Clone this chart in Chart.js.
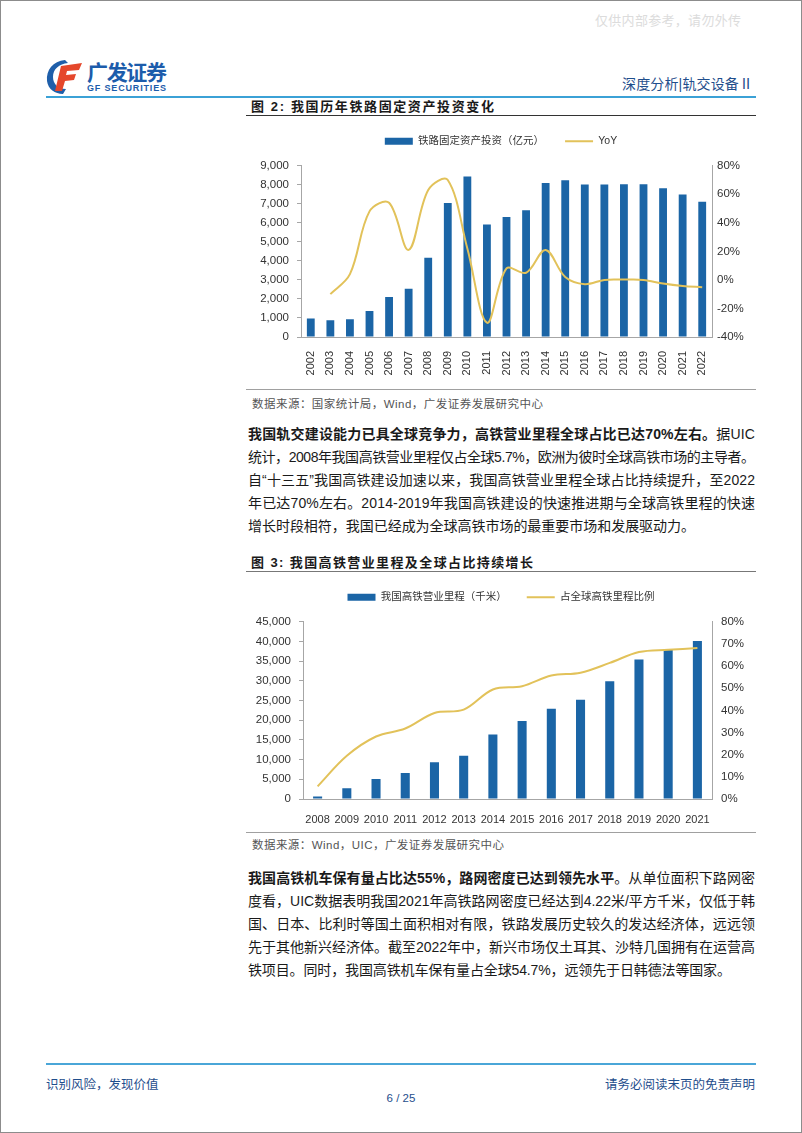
<!DOCTYPE html>
<html>
<head>
<meta charset="utf-8">
<script src="https://cdn.jsdelivr.net/npm/chart.js@4.4.0/dist/chart.umd.min.js"></script>
<style>
  body { margin: 0; background: #fff; font-family: "Liberation Sans", "Noto Sans CJK SC", sans-serif; }
  #page { position: relative; width: 800px; height: 1131px; border: 1px solid #8c8c8c; overflow: hidden; }
  .abs { position: absolute; }
  .fit { white-space: nowrap; display: inline-block; }
  .hline { position: absolute; height: 0; }
  .para { position: absolute; left: 247px; font-size: 14px; line-height: 23px; color: #1a1a1a; }
  .para > div { height: 23px; }
  .src { position: absolute; left: 251px; font-size: 11.5px; color: #555; }
  .ftitle { position: absolute; left: 250px; font-size: 13px; font-weight: bold; color: #1a1a1a; }
  canvas { position: absolute; }
</style>
</head>
<body>
<div id="page">
  <!-- watermark -->
  <div class="abs fit" style="left:594px;top:9px;font-size:13px;color:#dcdcdc;" data-w="146">仅供内部参考，请勿外传</div>

  <!-- logo -->
  <svg class="abs" style="left:43px;top:57px" width="42" height="38" viewBox="0 0 42 38">
    <path d="M21 2 C9 3 2 12 3 23 C4 31 11 36 19 36 L22 31 C14 31 9 26 9 19 C9 11 15 6 24 5 Z" fill="#1f5faa"/>
    <path d="M17 8 L38 5 L35 12 L23 13 L22 17 L32 16 L30 22 L21 23 L18 33 L11 33 Z" fill="#e5472b"/>
  </svg>
  <div class="abs fit" style="left:86px;top:55px;font-size:21px;font-weight:bold;color:#1c5cab;" data-w="80">广发证券</div>
  <div class="abs fit" style="left:86px;top:82px;font-size:9px;font-weight:bold;color:#1c5cab;" data-w="79">GF SECURITIES</div>
  <div class="abs fit" style="left:621px;top:72px;font-size:14px;color:#1f4e8c;" data-w="131">深度分析|轨交设备Ⅱ</div>
  <div class="hline" style="left:45px;top:95px;width:710px;border-top:2px solid #3ba1d6;"></div>

  <!-- figure 2 -->
  <div class="ftitle fit" style="top:95px;" data-w="243">图 2: 我国历年铁路固定资产投资变化</div>
  <div class="hline" style="left:245px;top:114px;width:510px;border-top:1.5px solid #333;"></div>
  <canvas id="chart1" width="510" height="262" style="left:245px;top:114px;"></canvas>
  <div class="hline" style="left:245px;top:388px;width:510px;border-top:1.5px solid #a0a0a0;"></div>
  <div class="src fit" style="top:394px;" data-w="291">数据来源：国家统计局，Wind，广发证券发展研究中心</div>

  <div class="para" style="top:422px;">
    <div><span class="fit" data-w="507"><b>我国轨交建设能力已具全球竞争力，高铁营业里程全球占比已达70%左右。</b>据UIC</span></div>
    <div><span class="fit" data-w="507">统计，2008年我国高铁营业里程仅占全球5.7%，欧洲为彼时全球高铁市场的主导者。</span></div>
    <div><span class="fit" data-w="507">自“十三五”我国高铁建设加速以来，我国高铁营业里程全球占比持续提升，至2022</span></div>
    <div><span class="fit" data-w="507">年已达70%左右。2014-2019年我国高铁建设的快速推进期与全球高铁里程的快速</span></div>
    <div><span class="fit" data-w="447">增长时段相符，我国已经成为全球高铁市场的最重要市场和发展驱动力。</span></div>
  </div>

  <!-- figure 3 -->
  <div class="ftitle fit" style="top:551px;" data-w="282">图 3: 我国高铁营业里程及全球占比持续增长</div>
  <div class="hline" style="left:245px;top:570px;width:510px;border-top:1.5px solid #777;"></div>
  <canvas id="chart2" width="510" height="252" style="left:245px;top:571px;"></canvas>
  <div class="hline" style="left:245px;top:831px;width:510px;border-top:1.5px solid #a0a0a0;"></div>
  <div class="src fit" style="top:835px;" data-w="252">数据来源：Wind，UIC，广发证券发展研究中心</div>

  <div class="para" style="top:866px;">
    <div><span class="fit" data-w="507"><b>我国高铁机车保有量占比达55%，路网密度已达到领先水平</b>。从单位面积下路网密</span></div>
    <div><span class="fit" data-w="507">度看，UIC数据表明我国2021年高铁路网密度已经达到4.22米/平方千米，仅低于韩</span></div>
    <div><span class="fit" data-w="507">国、日本、比利时等国土面积相对有限，铁路发展历史较久的发达经济体，远远领</span></div>
    <div><span class="fit" data-w="507">先于其他新兴经济体。截至2022年中，新兴市场仅土耳其、沙特几国拥有在运营高</span></div>
    <div><span class="fit" data-w="483">铁项目。同时，我国高铁机车保有量占全球54.7%，远领先于日韩德法等国家。</span></div>
  </div>

  <!-- footer -->
  <div class="hline" style="left:45px;top:1062px;width:710px;border-top:2px solid #4aa6d8;"></div>
  <div class="abs" style="left:45px;top:1073px;font-size:12.5px;color:#1f4e8c;">识别风险，发现价值</div>
  <div class="abs" style="right:46px;top:1073px;font-size:12.5px;color:#1f4e8c;">请务必阅读末页的免责声明</div>
  <div class="abs" style="left:0;width:800px;text-align:center;top:1091px;font-size:11.5px;color:#1f4e8c;">6 / 25</div>
</div>

<script>
// 图2 数据
const years1 = ['2002', '2003', '2004', '2005', '2006', '2007', '2008', '2009', '2010', '2011', '2012',
  '2013', '2014', '2015', '2016', '2017', '2018', '2019', '2020', '2021', '2022'];
const investment = [970, 880, 930, 1370, 2100, 2540, 4170, 7040, 8430, 5910, 6310,
  6660, 8090, 8240, 8015, 8010, 8030, 8030, 7820, 7490, 7110];
const yoy = [null, -10, 4, 48, 54, 21, 63, 70, 22, -30, 8,
  5, 21, 2, -3, 0, 0.2, 0, -2.6, -4.3, -5.1];

// 图3 数据
const years2 = ['2008', '2009', '2010', '2011', '2012', '2013', '2014', '2015', '2016', '2017',
  '2018', '2019', '2020', '2021'];
const hsrMileage = [620, 2700, 5100, 6600, 9300, 11000, 16400, 19800, 22900, 25200,
  29900, 35400, 37900, 40100];
const globalShare = [5.7, 19.5, 28.2, 31.8, 38.8, 40.3, 49.4, 50.9, 55.7, 57.0,
  61.4, 66.3, 67.3, 68.1];

const barColor = '#1b65a6';
const lineColor = '#e2c25a';
const axisColor = '#a6a6a6';

Chart.defaults.font.family = '"Liberation Sans", "Noto Sans CJK SC", sans-serif';
Chart.defaults.color = '#333';

function legendLabels(chart) {
  return Chart.defaults.plugins.legend.labels.generateLabels(chart)
    .sort((a, b) => a.datasetIndex - b.datasetIndex)
    .map(l => {
      const ds = chart.data.datasets[l.datasetIndex];
      if (ds.type === 'line') {
        l.pointStyle = 'line';
        l.strokeStyle = lineColor;
        l.lineWidth = 2;
      } else {
        l.pointStyle = 'rect';
        l.fillStyle = barColor;
        l.lineWidth = 0;
      }
      return l;
    });
}

function crearGrafico(id, cfg) {
  return new Chart(document.getElementById(id), {
    data: {
      labels: cfg.labels,
      datasets: [
        {
          type: 'bar', label: cfg.barLabel, data: cfg.bars, yAxisID: 'y',
          backgroundColor: barColor, barPercentage: cfg.barPct, categoryPercentage: 1, order: 1
        },
        {
          type: 'line', label: cfg.lineLabel, data: cfg.line, yAxisID: 'y1',
          borderColor: lineColor, borderWidth: 2, pointRadius: 0, tension: 0.35,
          fill: false, order: 0
        }
      ]
    },
    options: {
      responsive: false,
      animation: false,
      devicePixelRatio: 1,
      layout: { padding: 0 },
      plugins: {
        tooltip: { enabled: false },
        // caja vacía entre la leyenda y el área del gráfico
        title: {
          display: true, text: '', weight: 500,
          font: { size: 1 }, padding: { top: 0, bottom: 8 }
        },
        legend: {
          position: 'top',
          labels: {
            usePointStyle: true, pointStyleWidth: 28, boxHeight: 7,
            padding: cfg.legendPad, color: '#333',
            font: { size: 10.5 },
            generateLabels: legendLabels
          }
        }
      },
      scales: {
        x: {
          grid: { display: false },
          border: { display: true, color: axisColor },
          ticks: {
            autoSkip: false, minRotation: cfg.rot, maxRotation: cfg.rot,
            padding: 6, font: { size: 11 }, color: '#333'
          },
          afterFit: s => { s.height = cfg.xHeight; }
        },
        y: {
          position: 'left', min: 0, max: cfg.yMax,
          grid: { drawOnChartArea: false, tickLength: 4, color: axisColor },
          border: { display: true, color: axisColor },
          ticks: {
            stepSize: cfg.yStep, padding: 8, font: { size: 11.5 }, color: '#333',
            callback: v => v.toLocaleString('en-US')
          },
          afterFit: s => { s.width = cfg.yWidth; }
        },
        y1: {
          position: 'right', min: cfg.rMin, max: cfg.rMax,
          grid: { drawOnChartArea: false, drawTicks: false },
          border: { display: true, color: axisColor },
          ticks: {
            stepSize: cfg.rStep, padding: cfg.rPad, font: { size: 11.5 }, color: '#333',
            callback: v => v + '%'
          },
          afterFit: s => { s.width = 44; }
        }
      }
    }
  });
}

crearGrafico('chart1', {
  labels: years1, bars: investment, line: yoy,
  barLabel: '铁路固定资产投资（亿元）', lineLabel: 'YoY',
  barPct: 0.4, legendPad: 21, rot: 90, xHeight: 40,
  yMax: 9000, yStep: 1000, yWidth: 55,
  rMin: -40, rMax: 80, rStep: 20, rPad: 5
});

crearGrafico('chart2', {
  labels: years2, bars: hsrMileage, line: globalShare,
  barLabel: '我国高铁营业里程（千米）', lineLabel: '占全球高铁里程比例',
  barPct: 0.31, legendPad: 20, rot: 0, xHeight: 25,
  yMax: 45000, yStep: 5000, yWidth: 57,
  rMin: 0, rMax: 80, rStep: 10, rPad: 9
});

// ajustar el ancho de las líneas de texto
document.querySelectorAll('[data-w]').forEach(el => {
  const objetivo = Number(el.dataset.w);
  el.style.letterSpacing = '0px';
  const ancho = el.getBoundingClientRect().width;
  const n = [...el.textContent].length;
  if (n > 1) el.style.letterSpacing = ((objetivo - ancho) / (n - 1)) + 'px';
});
</script>
</body>
</html>
